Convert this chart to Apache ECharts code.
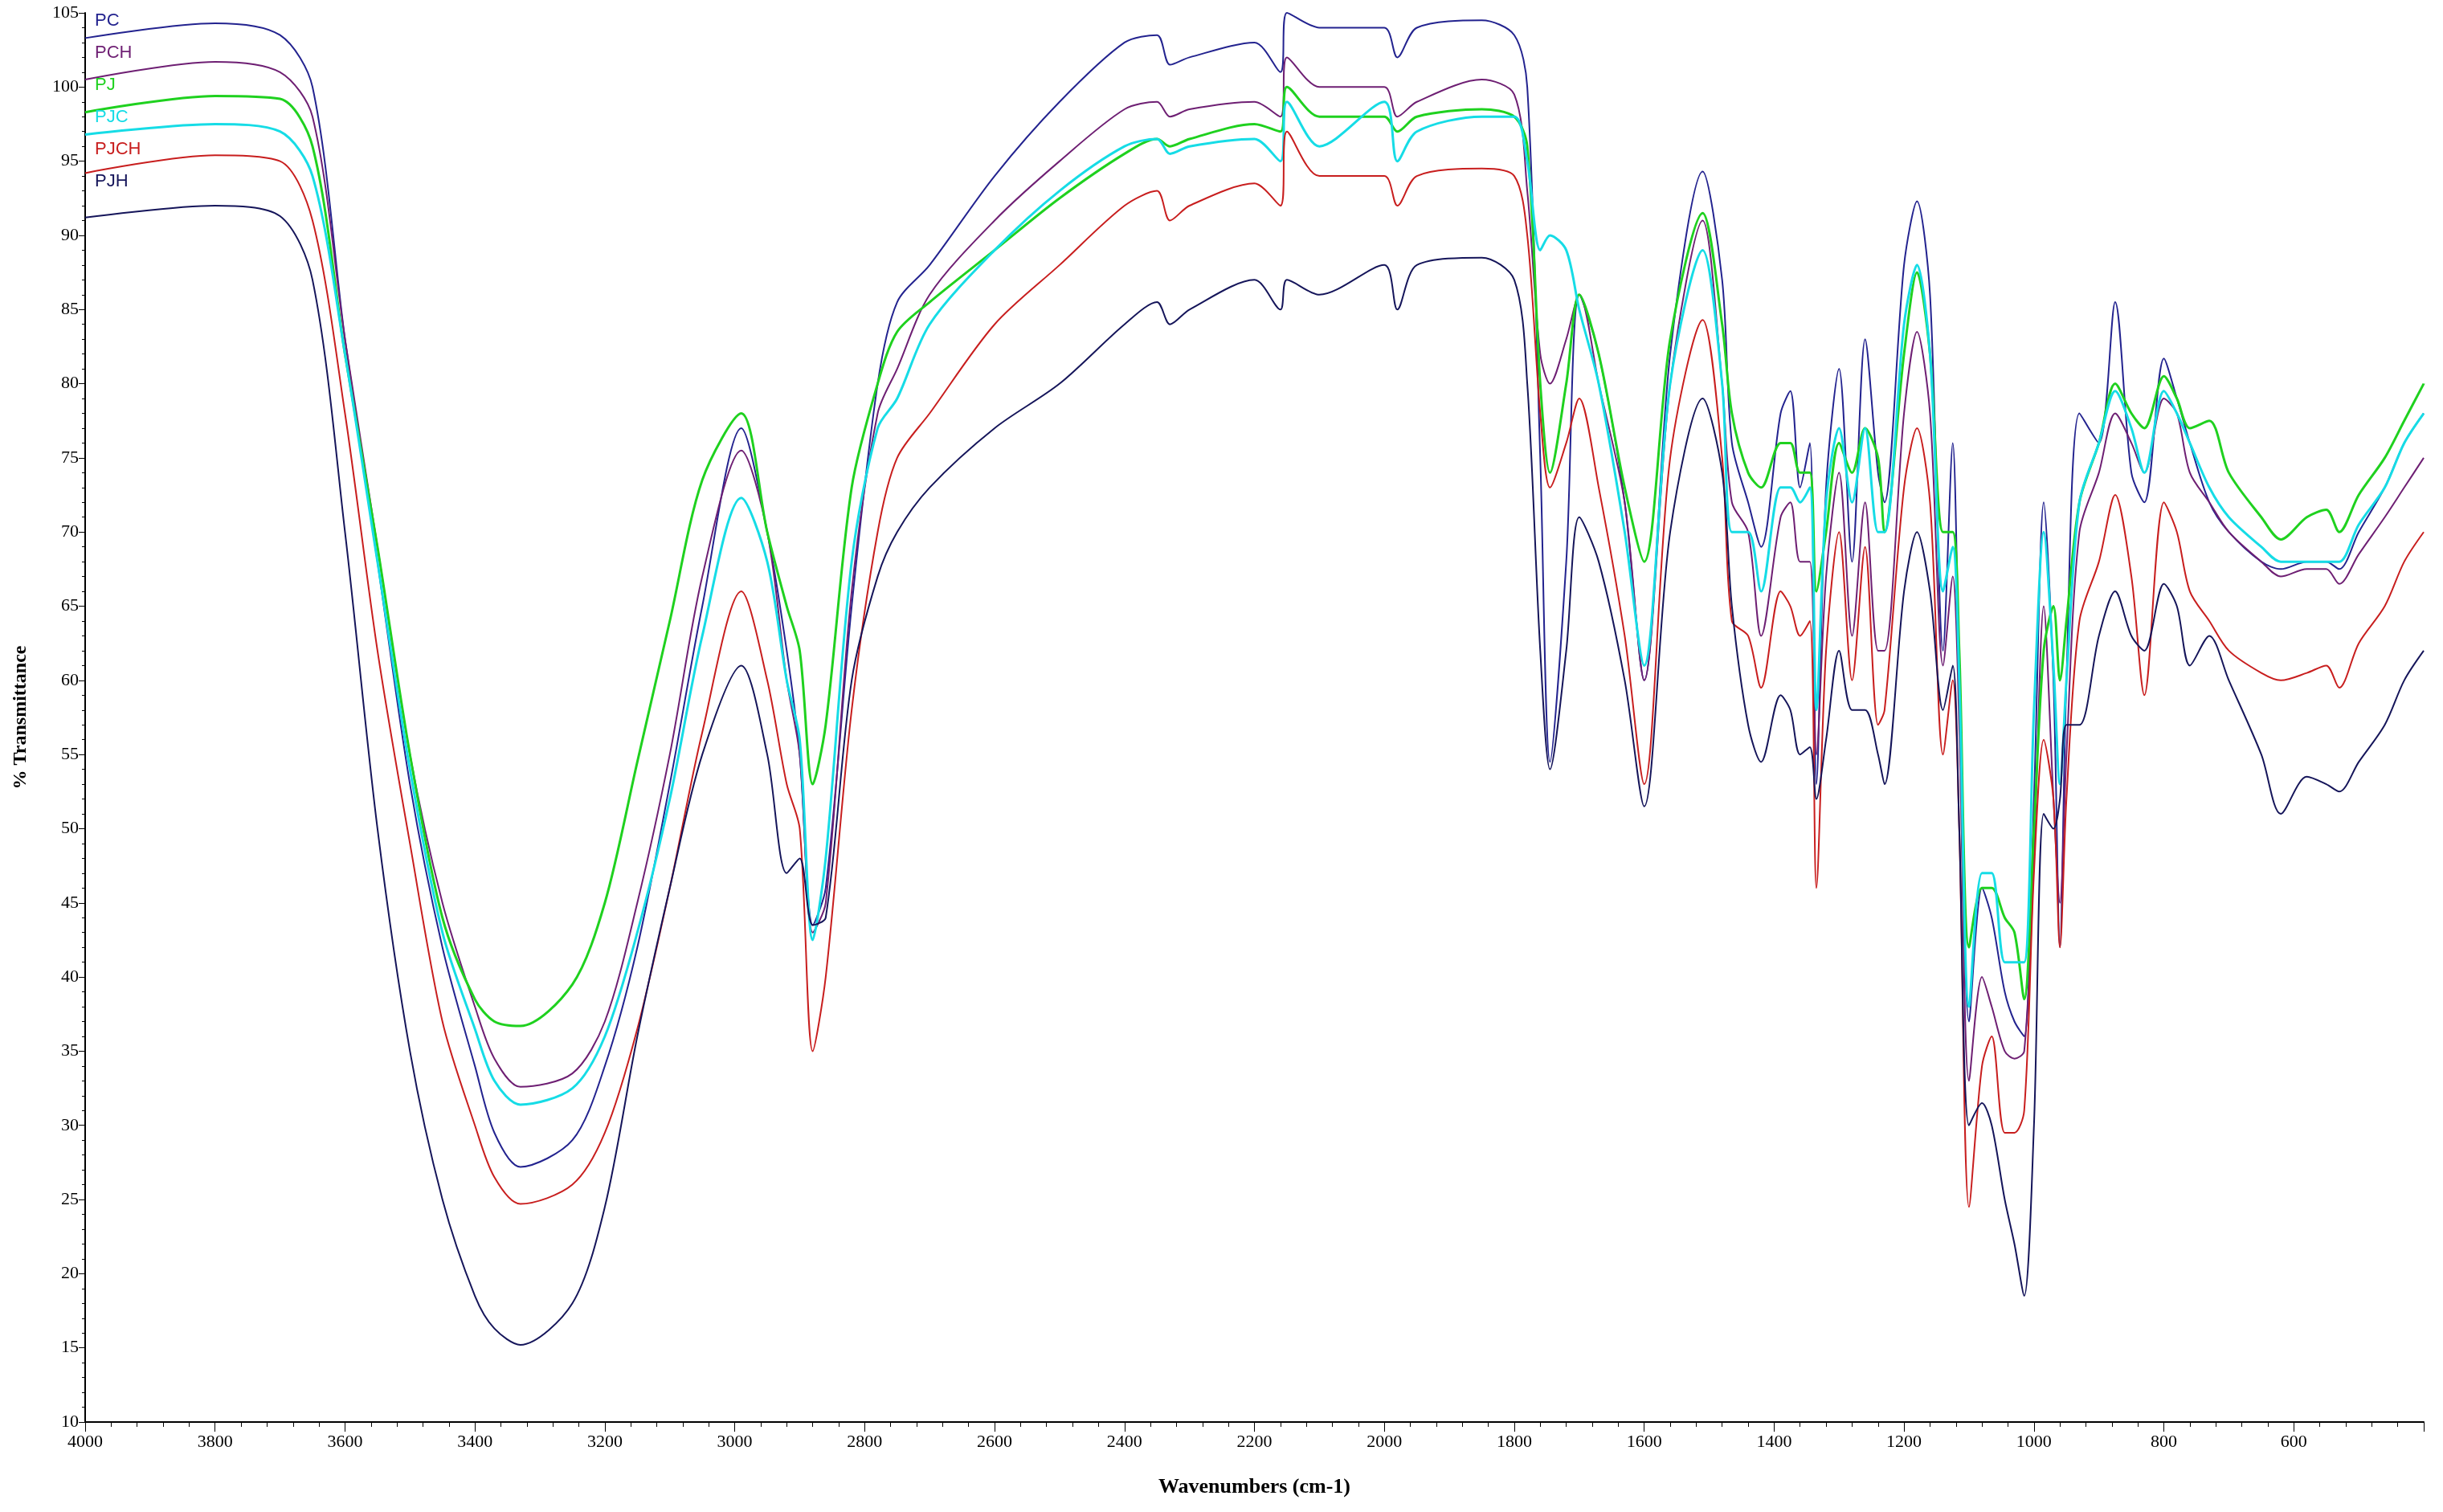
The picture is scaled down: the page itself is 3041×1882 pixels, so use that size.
<!DOCTYPE html>
<html>
<head>
<meta charset="utf-8">
<script src="https://cdn.jsdelivr.net/npm/echarts@6/dist/echarts.min.js"></script>
<style>html,body{margin:0;background:#fff}#chart{width:3041px;height:1882px}</style>
</head>
<body>
<div id="chart"></div>
<script>
// wavenumbers (cm-1), shared by every spectrum
const wavenumbers = [4000,3800,3700,3650,3600,3550,3500,3450,3400,3370,3330,3250,3200,3150,3100,3050,2990,2950,2920,2900,2880,2860,2820,2780,2750,2700,2600,2500,2400,2350,2330,2300,2200,2160,2150,2100,2000,1980,1950,1850,1800,1780,1760,1745,1720,1700,1670,1630,1600,1560,1510,1480,1465,1440,1420,1390,1375,1360,1345,1335,1320,1300,1280,1260,1240,1230,1200,1180,1160,1140,1125,1115,1100,1080,1065,1045,1030,1015,1000,985,970,960,950,930,900,875,850,830,800,780,760,730,700,650,620,580,550,530,500,460,430,400];

const PC   = [103.3,104.3,103.5, 100,83,68,53,42,34,29.5,27.2,29,34,42,53,65,77, 70,62,55,43.5,46,65,80,85.5,88,94,99,103,103.5,101.5,102,103,101,105,104,104,102,104,104.5,103.5,100,75,54.5,68,86,82,72,60,82,94.3,87,76,72,69,78,79.5,73,76,53,73,81,68,83,74,72,88,92.3,86,62,76,60,37,46,44,39,37,36,52,72,60,42,60,78,76,85.5,74,72,81.7,79,76,72,70,68,67.5,68,68,67.5,70,73,76,78];
const PCH  = [100.5,101.7,101, 98,83,69,55,45,38,34.5,32.6,33.5,37,45,55,67,75.5, 70,60,55,43,45,66,78,81,86,91,95,98.5,99,98,98.5,99,98,102,100,100,98,99,100.5,99.5,93,82,80,83,86,80,72,60,80,91,80,72,70,63,71,72,68,68,55,67,74,63,72,62,62,78,83.5,78,61,67,57,33,40,38,35,34.5,35,48,65,52,45,55,70,74,78,76,74,79,78,74,72,70,68,67,67.5,67.5,66.5,68.5,71,73,75];
const PJ   = [98.3,99.4,99.2, 96,82,69,55,44,38.5,37,36.7,39.5,45,54.5,64,73.5,78, 70,65,62,53,57,73,80,83.5,85.5,89,92.5,95.5,96.5,96,96.5,97.5,97,100,98,98,97,98,98.5,98,96,80,74,80,86,82,73,68,83,91.5,84,78,74,73,76,76,74,74,66,70,76,74,77,75,70,82,87.5,82,70,70,62,42,46,46,44,43,38.5,50,62,65,60,64,72,76,80,78,77,80.5,79,77,77.5,74,71,69.5,71,71.5,70,72.5,75,77.5,80];
const PJC  = [96.8,97.5,97, 94,82,68,54,43,36.5,33,31.4,32.5,36,43,52,63,72.3, 68,60,56,42.5,48,68,77,79,84,89,93,96,96.5,95.5,96,96.5,95,99,96,99,95,97,98,98,95,89,90,89,85,80,70,61,80,89,80,70,70,66,73,73,72,73,58,72,77,72,77,70,70,84,88,82,66,69,60,38,47,47,41,41,41,58,70,61,53,60,72,76,79.5,77,74,79.5,78,76,73,71,69,68,68,68,68,70.5,73,76,78];
const PJCH = [94.2,95.4,95, 91,78,62,49,37,30,26.5,24.7,26,29.5,36.5,46,56.5,66, 60,53,50,35,40,58,70,75,78,84,88,92,93,91,92,93.5,92,97,94,94,92,94,94.5,94,90,78,73,76,79,73,63,53,75,84.3,75,64,63,59.5,66,65,63,64,46,62,70,60,69,57,58,73,77,72,55,60,50,24.5,34,36,29.5,29.5,31,47,56,52,42,52,64,68,72.5,67,59,72,70,66,64,62,60.5,60,60.5,61,59.5,62.5,65,68,70];
const PJH  = [91.2,92,91.3, 87,70,50,35,25,18.5,16.3,15.2,18,24.5,36,46,55,61, 55,47,48,43.5,44,60,67,70,73,77,80,84,85.5,84,85,87,85,87,86,88,85,88,88.5,87,80,62,54,62,71,68,60,51.5,70,79,74,65,57,54.5,59,58,55,55.5,52,56,62,58,58,55,53,66,70,66,58,61,50,30,31.5,30,25,22,18.5,30,51,50,52,57,57,63,66,63,62,66.5,65,61,63,60,55,51,53.5,53,52.5,54.5,57,60,62];

const seriesNames = ['PC','PCH','PJ','PJC','PJCH','PJH'];
const seriesData = [PC, PCH, PJ, PJC, PJCH, PJH];
const colors = ['#23238f','#6e1f73','#1fd11f','#16dce6','#c81e1e','#15155a'];

const chart = echarts.init(document.getElementById('chart'));
const font = 'Liberation Serif';

chart.setOption({
  animation: false,
  color: colors,
  legend: {
    orient: 'vertical', left: 108, top: 10, itemGap: 18,
    icon: 'none', itemWidth: 0,
    textStyle: { color: 'inherit', fontFamily: 'Liberation Sans', fontSize: 22 },
    data: seriesNames
  },
  grid: { left: 106, right: 24, top: 16, bottom: 112 },
  xAxis: {
    type: 'value', inverse: true, min: 400, max: 4000, interval: 200,
    name: 'Wavenumbers (cm-1)', nameLocation: 'middle', nameGap: 68,
    nameTextStyle: { fontFamily: font, fontWeight: 'bold', fontSize: 26, color: '#000' },
    axisLine: { lineStyle: { color: '#000', width: 2 } },
    axisTick: { length: 12, lineStyle: { color: '#000' } },
    minorTick: { show: true, splitNumber: 5, length: 6, lineStyle: { color: '#000' } },
    splitLine: { show: false },
    axisLabel: { fontFamily: font, fontSize: 22, color: '#000', margin: 14,
      formatter: v => v === 400 ? '' : v }
  },
  yAxis: {
    type: 'value', min: 10, max: 105, interval: 5,
    name: '% Transmittance', nameLocation: 'middle', nameGap: 68, nameRotate: 90,
    nameTextStyle: { fontFamily: font, fontWeight: 'bold', fontSize: 24, color: '#000' },
    axisLine: { show: true, lineStyle: { color: '#000', width: 2 } },
    axisTick: { length: 8, lineStyle: { color: '#000' } },
    minorTick: { show: true, splitNumber: 5, length: 4, lineStyle: { color: '#000' } },
    splitLine: { show: false },
    axisLabel: { fontFamily: font, fontSize: 22, color: '#000' }
  },
  series: seriesNames.map((name, i) => ({
    name, type: 'line', symbol: 'none', smooth: 0.3,
    lineStyle: { width: i === 2 || i === 3 ? 3 : 2 },
    data: wavenumbers.map((w, j) => [w, seriesData[i][j]])
  }))
});
</script>
</body>
</html>
